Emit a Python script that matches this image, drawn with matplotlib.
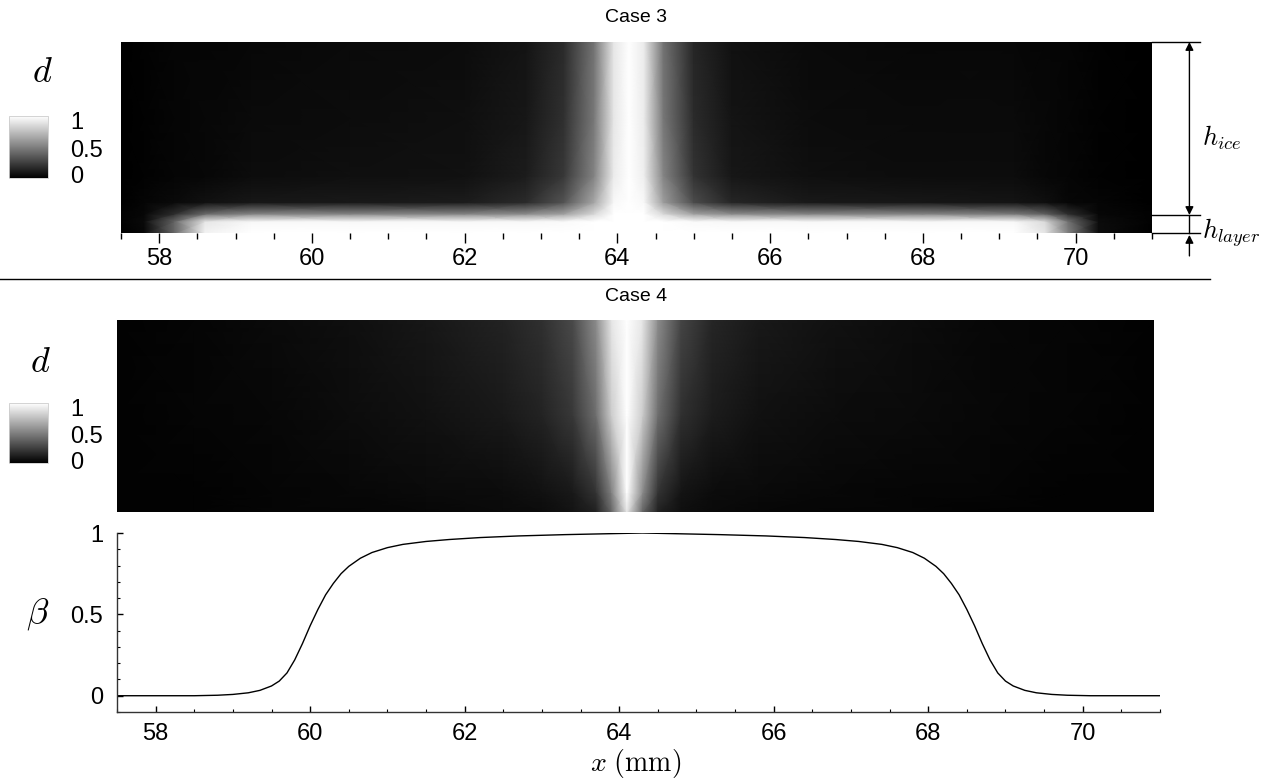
import numpy as np
import matplotlib
matplotlib.use('Agg')
import matplotlib.pyplot as plt
from matplotlib.lines import Line2D
from matplotlib.ticker import MultipleLocator

plt.rcParams['font.family'] = ['Liberation Sans', 'DejaVu Sans']
plt.rcParams['mathtext.fontset'] = 'cm'

#  Case 3 damage field d(x, y) (y = fraction of ice height)
c3_x = [57.5, 57.8, 58.2, 58.6, 59.2, 60.5, 62.0, 62.8, 63.3, 63.7, 63.95, 64.15,
        64.35, 64.6, 65.0, 65.5, 66.5, 68.0, 69.2, 69.6, 69.9, 70.3, 71.0]
c3_y = [0.0, 0.06, 0.1, 0.16, 0.3, 0.6, 1.0]
c3_d = [
    [0.00, 0.03, 0.40, 0.95, 1.0, 1.0, 1.0, 1.0, 1.0, 1.0, 1.0, 1.0, 1.0, 1.0, 1.0, 1.0, 1.0, 1.0, 1.0, 0.90, 0.50, 0.05, 0.00],
    [0.01, 0.04, 0.40, 0.90, 0.97, 0.97, 0.97, 0.97, 0.98, 1.0, 1.0, 1.0, 1.0, 1.0, 0.98, 0.97, 0.97, 0.97, 0.97, 0.85, 0.45, 0.05, 0.01],
    [0.01, 0.03, 0.18, 0.42, 0.52, 0.52, 0.52, 0.55, 0.63, 0.85, 1.0, 1.0, 1.0, 0.85, 0.63, 0.55, 0.52, 0.52, 0.48, 0.38, 0.18, 0.03, 0.01],
    [0.00, 0.02, 0.04, 0.07, 0.09, 0.10, 0.11, 0.17, 0.33, 0.66, 0.97, 1.0, 0.97, 0.62, 0.30, 0.15, 0.10, 0.09, 0.08, 0.06, 0.03, 0.02, 0.00],
    [0.00, 0.01, 0.02, 0.03, 0.05, 0.06, 0.07, 0.11, 0.22, 0.52, 0.92, 1.0, 0.93, 0.52, 0.20, 0.09, 0.06, 0.05, 0.05, 0.03, 0.02, 0.01, 0.00],
    [0.00, 0.01, 0.02, 0.03, 0.04, 0.05, 0.06, 0.09, 0.19, 0.48, 0.90, 1.0, 0.92, 0.47, 0.17, 0.08, 0.05, 0.04, 0.04, 0.03, 0.02, 0.01, 0.00],
    [0.00, 0.01, 0.02, 0.02, 0.03, 0.04, 0.05, 0.08, 0.17, 0.46, 0.90, 1.0, 0.92, 0.45, 0.15, 0.07, 0.04, 0.03, 0.03, 0.02, 0.02, 0.01, 0.00],
]

#  Case 4 damage field
c4_x = [57.5, 58.5, 59.5, 60.5, 61.5, 62.5, 63.0, 63.4, 63.7, 63.9, 64.1, 64.3,
        64.5, 64.8, 65.2, 65.8, 66.8, 67.8, 68.8, 69.8, 70.92]
c4_y = [0.0, 0.1, 0.5, 1.0]
c4_d = [
    [0.01, 0.01, 0.02, 0.02, 0.03, 0.04, 0.05, 0.08, 0.13, 0.40, 0.90, 0.40, 0.13, 0.06, 0.04, 0.03, 0.02, 0.02, 0.01, 0.01, 0.01],
    [0.01, 0.01, 0.02, 0.03, 0.04, 0.05, 0.07, 0.10, 0.20, 0.50, 1.00, 0.55, 0.20, 0.08, 0.05, 0.04, 0.03, 0.02, 0.02, 0.01, 0.01],
    [0.01, 0.02, 0.03, 0.05, 0.07, 0.10, 0.14, 0.22, 0.43, 0.80, 1.00, 0.80, 0.43, 0.19, 0.11, 0.07, 0.05, 0.04, 0.03, 0.02, 0.01],
    [0.01, 0.02, 0.04, 0.06, 0.09, 0.14, 0.19, 0.29, 0.55, 0.90, 1.00, 0.90, 0.55, 0.27, 0.15, 0.10, 0.07, 0.05, 0.03, 0.02, 0.01],
]

#  beta(x) for Case 4
beta_x = [57.5, 58.5, 58.8, 59.0, 59.2, 59.35, 59.5, 59.6, 59.7, 59.8, 59.9, 60.0, 60.1,
          60.2, 60.3, 60.4, 60.5, 60.65, 60.8, 61.0, 61.2, 61.5, 61.8, 62.2, 62.7, 63.3,
          64.3,
          65.3, 65.9, 66.4, 66.8, 67.1, 67.4, 67.6, 67.8, 67.95, 68.1, 68.2, 68.3, 68.4,
          68.5, 68.6, 68.7, 68.8, 68.9, 69.0, 69.1, 69.25, 69.4, 69.6, 69.8, 70.1, 71.0]
beta_v = [0, 0, 0.003, 0.008, 0.018, 0.033, 0.06, 0.09, 0.14, 0.22, 0.32, 0.43, 0.53,
          0.62, 0.69, 0.75, 0.795, 0.845, 0.88, 0.91, 0.93, 0.948, 0.96, 0.972, 0.982, 0.99,
          1.0,
          0.99, 0.982, 0.972, 0.96, 0.948, 0.93, 0.91, 0.88, 0.845, 0.795, 0.75, 0.69, 0.62,
          0.53, 0.43, 0.32, 0.22, 0.14, 0.09, 0.06, 0.033, 0.018, 0.008, 0.003, 0, 0]

xticks = [58, 60, 62, 64, 66, 68, 70]
W, H = 1285, 778


def box(l, t, r, b):
    return [l / W, 1 - b / H, (r - l) / W, (b - t) / H]


fig = plt.figure(figsize=(12.85, 7.78), dpi=100)

#  Case 3
ax1 = fig.add_axes(box(121, 42, 1152, 233))
X, Y = np.meshgrid(c3_x, c3_y)
pm = ax1.pcolormesh(X, Y, np.array(c3_d), shading='gouraud', cmap='gray', vmin=0, vmax=1)
ax1.set_xlim(57.5, 71)
ax1.set_ylim(0, 1)
for s in ax1.spines.values():
    s.set_visible(False)
ax1.set_yticks([])
ax1.set_xticks(xticks)
ax1.xaxis.set_minor_locator(MultipleLocator(0.5))
ax1.tick_params(axis='x', which='major', direction='out', length=7, width=1, labelsize=17, pad=4)
ax1.tick_params(axis='x', which='minor', direction='out', length=4.5, width=1)
fig.text(636 / W, 1 - 18 / H, 'Case 3', ha='center', va='center', fontsize=14)

#  right-hand annotation (thickness of ice and of the layer)
kw = dict(color='k', lw=1, clip_on=False)
yl = 18 / 191
for yy in [1.0, yl, 0.0]:
    ax1.plot([71.0, 71.63], [yy, yy], **kw)
ax1.annotate('', xy=(71.49, 1.0), xytext=(71.49, yl), annotation_clip=False,
             arrowprops=dict(arrowstyle='<|-|>', color='k', lw=1, shrinkA=0, shrinkB=0,
                             mutation_scale=12))
ax1.plot([71.49, 71.49], [yl, 0.0], **kw)
ax1.annotate('', xy=(71.49, -0.01), xytext=(71.49, -0.12), annotation_clip=False,
             arrowprops=dict(arrowstyle='-|>', color='k', lw=1, shrinkA=0, shrinkB=0,
                             mutation_scale=12))
ax1.text(71.65, 0.5, r'$h_{ice}$', fontsize=19, va='center', ha='left')
ax1.text(71.65, 0.0, r'$h_{layer}$', fontsize=19, va='center', ha='left')

cax1 = fig.add_axes(box(9, 116, 48, 178))
cb1 = fig.colorbar(pm, cax=cax1)
cb1.set_ticks([0.05, 0.48, 0.92])
cb1.set_ticklabels(['0', '0.5', '1'])
cb1.ax.tick_params(length=0, labelsize=17, pad=16)
cb1.outline.set_edgecolor('#cccccc')
cb1.outline.set_linewidth(0.6)
fig.text(42 / W, 1 - 72 / H, r'$d$', fontsize=26, ha='center', va='center')

#  separator
fig.add_artist(Line2D([0, 1210 / W], [1 - 279 / H, 1 - 279 / H], color='k', lw=1))

#  Case 4
ax2 = fig.add_axes(box(117, 320, 1154, 512))
X, Y = np.meshgrid(c4_x, c4_y)
pm2 = ax2.pcolormesh(X, Y, np.array(c4_d), shading='gouraud', cmap='gray', vmin=0, vmax=1)
ax2.set_xlim(57.5, 70.92)
ax2.set_ylim(0, 1)
ax2.set_xticks([])
ax2.set_yticks([])
for s in ax2.spines.values():
    s.set_visible(False)
fig.text(636 / W, 1 - 297 / H, 'Case 4', ha='center', va='center', fontsize=14)

cax2 = fig.add_axes(box(9, 403, 48, 463))
cb2 = fig.colorbar(pm2, cax=cax2)
cb2.set_ticks([0.05, 0.48, 0.92])
cb2.set_ticklabels(['0', '0.5', '1'])
cb2.ax.tick_params(length=0, labelsize=17, pad=16)
cb2.outline.set_edgecolor('#cccccc')
cb2.outline.set_linewidth(0.6)
fig.text(40 / W, 1 - 362 / H, r'$d$', fontsize=26, ha='center', va='center')

#  beta
ax3 = fig.add_axes(box(117, 533, 1160, 712))
ax3.plot(beta_x, beta_v, color='k', lw=1)
ax3.set_xlim(57.5, 71)
ax3.set_ylim(-0.1, 1.0)
ax3.spines['top'].set_visible(False)
ax3.spines['right'].set_visible(False)
for s in ['left', 'bottom']:
    ax3.spines[s].set_linewidth(1)
    ax3.spines[s].set_color('#333333')
ax3.set_xticks(xticks)
ax3.xaxis.set_minor_locator(MultipleLocator(0.5))
ax3.set_yticks([0, 0.5, 1])
ax3.set_yticklabels(['0', '0.5', '1'])
ax3.yaxis.set_minor_locator(MultipleLocator(0.1))
ax3.tick_params(which='major', direction='in', length=4, width=1, labelsize=17, pad=10)
ax3.tick_params(axis='x', which='major', pad=8)
ax3.tick_params(which='minor', direction='in', length=2, width=0.8)
fig.text(38 / W, 1 - 614 / H, r'$\beta$', fontsize=26, ha='center', va='center')
fig.text(636 / W, 1 - 763 / H, r'$x\ (\mathrm{mm})$', fontsize=20, ha='center', va='center')

fig.savefig('out.png', dpi=100)
